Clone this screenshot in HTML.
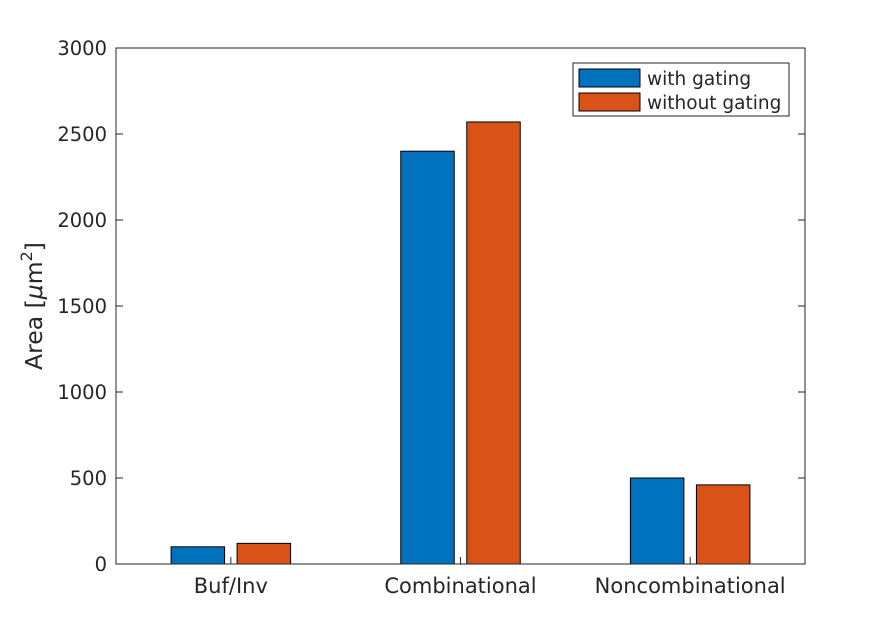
<!DOCTYPE html>
<html><head><meta charset="utf-8"><style>
body{margin:0;background:#fff;}
svg{font-family:"DejaVu Sans","Liberation Sans",sans-serif;}
</style></head><body>
<svg id="chart" width="891" height="634">
<rect x="0" y="0" width="891" height="634" fill="#fff"/>
<g id="bars"></g>
<rect x="116" y="48" width="689" height="516" fill="none" stroke="#262626" stroke-width="1"/>
<g id="axes"></g>
<text transform="translate(42,306) rotate(-90)" text-anchor="middle" font-size="23.5" fill="#262626">Area [<tspan font-style="italic">μ</tspan>m<tspan font-size="16" dy="-10">2</tspan><tspan dy="10">]</tspan></text>
<g>
<rect x="573" y="63" width="216" height="53" fill="#fff" stroke="#262626" stroke-width="1"/>
<g>
<rect x="579" y="69" width="61" height="18" fill="#0072BD" stroke="#000"/>
<text x="647" y="85" font-size="18.5" fill="#262626">with gating</text>
</g>
<g>
<rect x="579" y="93" width="61" height="18" fill="#D95319" stroke="#000"/>
<text x="647" y="109" font-size="18.5" fill="#262626">without gating</text>
</g>
</g>
</svg>
<script>
const categories = ["Buf/Inv", "Combinational", "Noncombinational"];
const withGating = [100, 2400, 500];
const withoutGating = [120, 2570, 460];
const yTicks = [0, 500, 1000, 1500, 2000, 2500, 3000];

const NS = "http://www.w3.org/2000/svg";
const x0 = 116, x1 = 805, y0 = 564, y1 = 48, yMax = 3000;
const yScale = v => y0 - (v / yMax) * (y0 - y1);
const catW = (x1 - x0) / categories.length;
const xCenter = i => x0 + catW * (i + 0.5);
const barW = 53.5, off = 33;

function mk(tag, attrs, parent) {
  const e = document.createElementNS(NS, tag);
  for (const k in attrs) e.setAttribute(k, attrs[k]);
  parent.appendChild(e);
  return e;
}
const axes = document.getElementById("axes");
const bars = document.getElementById("bars");

yTicks.forEach(t => {
  const y = yScale(t);
  const l1 = mk("line", {x1: x0, x2: x0 + 7, y1: y, y2: y, stroke: "#262626"}, axes);
  
  
  const l2 = mk("line", {x1: x1, x2: x1 - 7, y1: y, y2: y, stroke: "#262626"}, axes);
  
  
  const tx = mk("text", {x: x0 - 9, y: y + 7, "text-anchor": "end", "font-size": "19.5", fill: "#262626"}, axes);
  tx.textContent = t;
  
  
});

categories.forEach((c, i) => {
  const cx = xCenter(i);
  const tk = mk("line", {x1: cx, x2: cx, y1: y0, y2: y0 - 7, stroke: "#262626"}, axes);
  
  
  const tx = mk("text", {x: cx, y: y0 + 29, "text-anchor": "middle", "font-size": "21", fill: "#262626"}, axes);
  tx.textContent = c;
  
  

  const b1 = mk("rect", {x: cx - off - barW / 2, y: yScale(withGating[i]), width: barW, height: y0 - yScale(withGating[i]), fill: "#0072BD", stroke: "#000", "stroke-width": "1"}, bars);
  
  
  const b2 = mk("rect", {x: cx + off - barW / 2, y: yScale(withoutGating[i]), width: barW, height: y0 - yScale(withoutGating[i]), fill: "#D95319", stroke: "#000", "stroke-width": "1"}, bars);
  
  
});
</script>
</body></html>
